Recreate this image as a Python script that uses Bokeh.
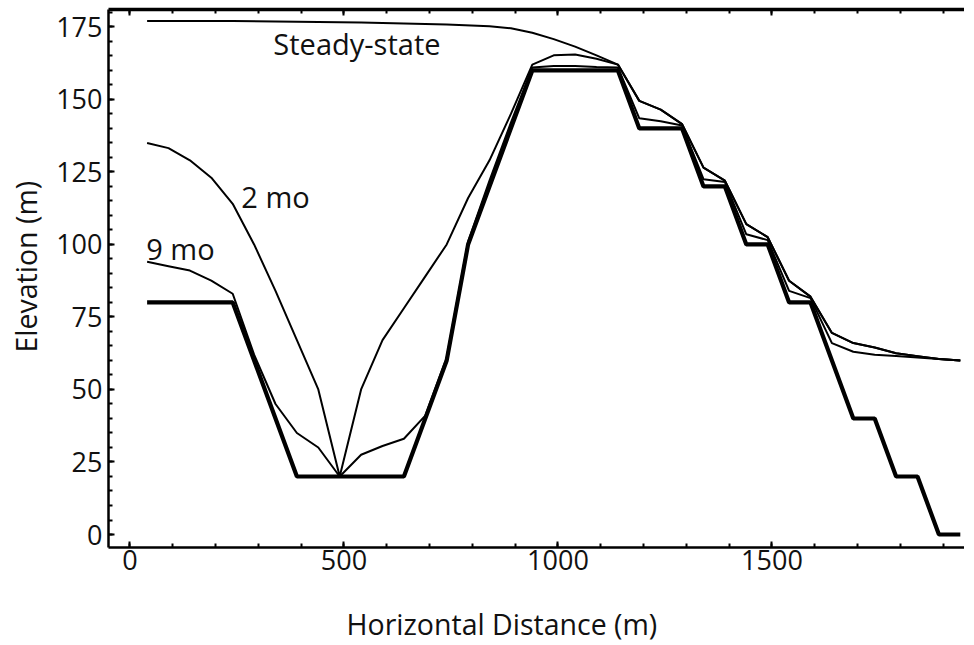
from bokeh.plotting import figure
from bokeh.models import Range1d, LinearAxis, SingleIntervalTicker, Title, CustomJSTickFormatter
from bokeh.embed import file_html
from bokeh.resources import INLINE
from bokeh.core.properties import value

FONT = "Open Sans"

# Initial topography (bold)
topo_x = [40, 240, 390, 640, 740, 790, 940, 1140, 1190, 1290, 1340, 1390, 1440,
          1490, 1540, 1590, 1690, 1740, 1790, 1840, 1890, 1940]
topo_y = [80, 80, 20, 20, 60, 100, 160, 160, 140, 140, 120, 120, 100,
          100, 80, 80, 40, 40, 20, 20, 0, 0]

# Steady-state water table
ss_x = [40, 140, 240, 340, 440, 540, 640, 740, 840, 890, 940, 990, 1040, 1090, 1140,
        1190, 1240, 1290, 1340, 1390, 1440, 1490, 1540, 1590, 1640, 1690, 1740, 1790,
        1840, 1890, 1940]
ss_y = [177, 177, 177, 176.9, 176.7, 176.5, 176.2, 175.8, 175.2, 174.5, 173, 170.8,
        168.2, 165.2, 162,
        149.5, 146.5, 141.5, 126.5, 122, 107, 102.5, 87.5, 82, 69.5, 66, 64.5, 62.5,
        61.5, 60.5, 60]

# 2 months
m2_x = [40, 90, 140, 190, 240, 290, 340, 390, 440, 490, 540, 590, 640, 690, 740, 790,
        840, 890, 940, 990, 1040, 1090, 1140,
        1190, 1240, 1290, 1340, 1390, 1440, 1490, 1540, 1590, 1640, 1690, 1740, 1790,
        1840, 1890, 1940]
m2_y = [135, 133.2, 129, 123, 114, 100, 84, 67, 50, 20, 50, 67, 78, 89, 100, 116,
        129, 145, 162, 165.2, 165.5, 164, 162,
        149.5, 146.5, 141.5, 126.5, 122, 107, 102.5, 87.5, 82, 69.5, 66, 64.5, 62.5,
        61.5, 60.5, 60]

# 9 months
m9_x = [40, 90, 140, 190, 240, 290, 340, 390, 440, 490, 540, 590, 640, 690, 740, 790,
        840, 890, 940, 990, 1040, 1090, 1140,
        1190, 1240, 1290, 1340, 1390, 1440, 1490, 1540, 1590, 1640, 1690, 1740, 1790,
        1840, 1890, 1940]
m9_y = [94, 92.5, 91, 87.5, 83, 62, 45, 35, 30, 20, 27.5, 30.5, 33, 41, 61, 101,
        122, 142, 161, 161.5, 161.5, 161.2, 161,
        143.5, 142.5, 141, 122.5, 121.5, 103.5, 101.5, 84, 81.5, 66, 63, 62, 61.5,
        61, 60.5, 60]

labels = ["Steady-state", "2 mo", "9 mo"]
label_x = [335, 260, 38]
label_y = [169.3, 116.4, 98.6]

p = figure(frame_width=856, frame_height=538, output_backend="svg", toolbar_location=None,
           x_range=Range1d(-50.2, 1949.8), y_range=Range1d(-4.48, 181.0),
           min_border_left=108, min_border_right=0, min_border_top=9,
           min_border_bottom=0)
p.grid.visible = False
p.outline_line_color = None
p.background_fill_color = "white"
p.border_fill_color = "white"

def style_axis(ax, ticker):
    ax.ticker = ticker
    ax.axis_line_color = "black"
    ax.axis_line_width = 2.5
    ax.major_tick_line_color = "black"
    ax.minor_tick_line_color = "black"
    ax.major_tick_line_width = 2
    ax.minor_tick_line_width = 2
    ax.major_tick_in = 6
    ax.major_tick_out = 0
    ax.minor_tick_in = 4
    ax.minor_tick_out = 0
    ax.major_label_text_font = FONT
    ax.major_label_text_font_size = "27px"
    ax.major_label_text_color = "#111111"

xa = p.xaxis[0]
style_axis(xa, SingleIntervalTicker(interval=500, num_minor_ticks=5))
xa.major_label_standoff = 2

ya = p.yaxis[0]
style_axis(ya, SingleIntervalTicker(interval=25, num_minor_ticks=5))
ya.major_label_standoff = 6

top = LinearAxis()
style_axis(top, SingleIntervalTicker(interval=500, num_minor_ticks=5))
top.axis_line_width = 3.5
top.formatter = CustomJSTickFormatter(code="return ''")
top.major_label_standoff = 0
p.add_layout(top, "above")

yt = Title(text="Elevation (m)", align="left", offset=195, vertical_align="top",
           text_font=FONT, text_font_size="28.5px", text_font_style="normal",
           text_color="#111111", standoff=13)
p.add_layout(yt, "left")

xt = Title(text="Horizontal Distance (m)", align="left", offset=238,
           text_font=FONT, text_font_size="28.5px", text_font_style="normal",
           text_color="#111111", standoff=60)
p.add_layout(xt, "below")

p.line(topo_x, topo_y, line_color="black", line_width=4.2)
p.line(ss_x, ss_y, line_color="black", line_width=2)
p.line(m2_x, m2_y, line_color="black", line_width=2)
p.line(m9_x, m9_y, line_color="black", line_width=2)

p.text(x=label_x, y=label_y, text=labels, text_font=value(FONT),
       text_font_size="29px", text_baseline="middle", text_align="left",
       text_color="#111111")

open("out.html", "w").write(file_html(p, INLINE))
